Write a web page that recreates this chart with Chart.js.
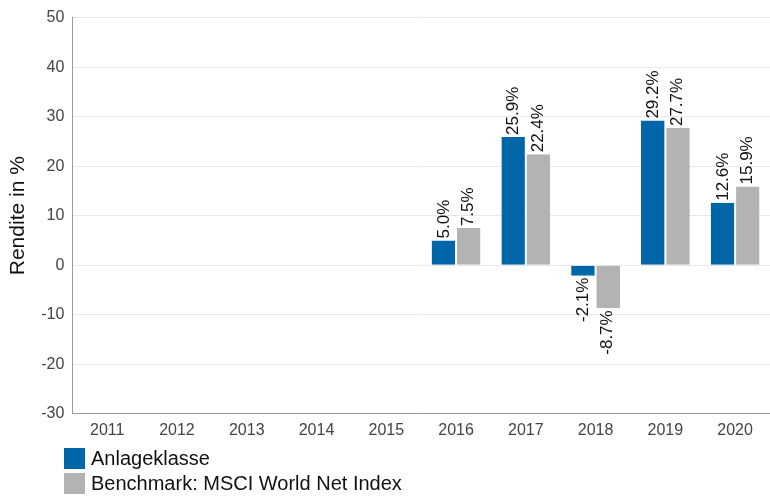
<!DOCTYPE html>
<html>
<head>
<meta charset="utf-8">
<script src="https://cdn.jsdelivr.net/npm/chart.js@4"></script>
<style>
  body { margin: 0; background: #fff; font-family: "Liberation Sans", Arial, sans-serif; }
  #wrap { position: relative; width: 770px; height: 496px; }
  #c { position: absolute; left: 0; top: 0; }
  #legend { position: absolute; left: 64px; top: 446px; font-size: 20px; color: #111; }
  .item { display: flex; align-items: center; height: 25px; }
  .box { width: 21px; height: 21px; margin-right: 6px; }
</style>
</head>
<body>
<div id="wrap">
  <canvas id="c" width="770" height="447"></canvas>
  <div id="legend"></div>
</div>
<script>
// Daten
const years = ["2011", "2012", "2013", "2014", "2015", "2016", "2017", "2018", "2019", "2020"];
const anlage = [null, null, null, null, null, 5.0, 25.9, -2.1, 29.2, 12.6];
const benchmark = [null, null, null, null, null, 7.5, 22.4, -8.7, 27.7, 15.9];
const seriesNames = ["Anlageklasse", "Benchmark: MSCI World Net Index"];
const seriesColors = ["#0066a8", "#b3b3b3"];

// Werte als gedrehte Beschriftung über / unter den Balken
const barLabels = {
  id: "barLabels",
  afterDatasetsDraw(chart) {
    const ctx = chart.ctx;
    ctx.save();
    ctx.font = "17px 'Liberation Sans', Arial";
    ctx.fillStyle = "#111";
    ctx.textBaseline = "middle";
    chart.data.datasets.forEach((ds, i) => {
      chart.getDatasetMeta(i).data.forEach((bar, j) => {
        const v = ds.data[j];
        if (v === null) return;
        ctx.save();
        ctx.translate(bar.x, bar.y);
        ctx.rotate(-Math.PI / 2);
        if (v >= 0) {
          ctx.textAlign = "left";
          ctx.fillText(v.toFixed(1) + "%", 2, 0);
        } else {
          ctx.textAlign = "right";
          ctx.fillText(v.toFixed(1) + "%", -2, 0);
        }
        ctx.restore();
      });
    });
    ctx.restore();
  }
};

const chart = new Chart(document.getElementById("c"), {
  type: "bar",
  data: {
    labels: years,
    datasets: [
      { label: seriesNames[0], data: anlage, backgroundColor: seriesColors[0], borderColor: "#fff", borderWidth: { left: 0, right: 1, top: 0, bottom: 0 }, borderSkipped: false },
      { label: seriesNames[1], data: benchmark, backgroundColor: seriesColors[1], borderColor: "#fff", borderWidth: { left: 1, right: 0, top: 0, bottom: 0 }, borderSkipped: false }
    ]
  },
  options: {
    responsive: false,
    animation: false,
    layout: { padding: { top: 12, right: 0, left: 0, bottom: 0 } },
    datasets: { bar: { barPercentage: 1, categoryPercentage: 0.7 } },
    plugins: { legend: { display: false }, tooltip: { enabled: false } },
    scales: {
      x: {
        grid: { display: false, drawTicks: false },
        border: { color: "#9a9a9a" },
        ticks: { color: "#444", font: { size: 16, family: "'Liberation Sans', Arial" }, padding: 7 }
      },
      y: {
        min: -30, max: 50,
        grid: { color: "#e8e8e8", drawTicks: false },
        border: { color: "#9a9a9a" },
        ticks: { stepSize: 10, color: "#444", font: { size: 16, family: "'Liberation Sans', Arial" }, padding: 8 },
        title: { display: true, text: "Rendite in %", color: "#111", font: { size: 21, family: "'Liberation Sans', Arial" }, padding: { top: 6, bottom: 2 } }
      }
    }
  },
  plugins: [barLabels]
});

// Legende
const legend = document.getElementById("legend");
seriesNames.forEach((name, i) => {
  const row = document.createElement("div");
  row.className = "item";
  row.innerHTML = '<span class="box" style="background:' + seriesColors[i] + '"></span>' + name;
  legend.appendChild(row);
});
</script>
</body>
</html>
